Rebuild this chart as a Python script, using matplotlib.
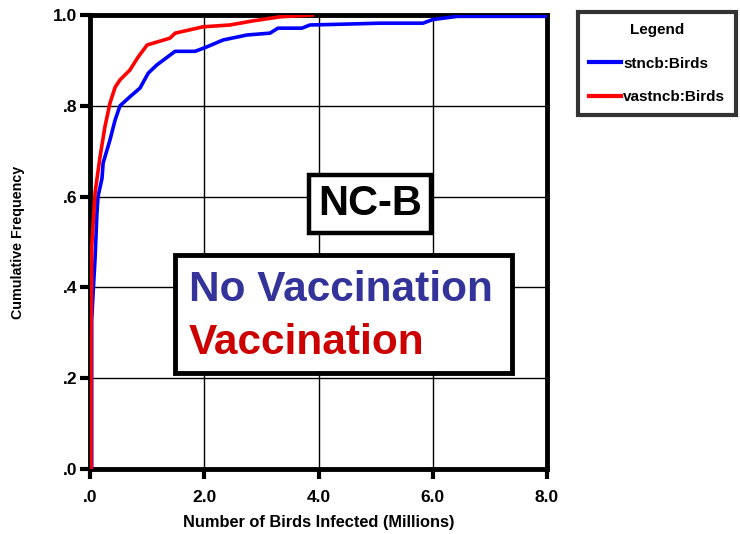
import matplotlib
matplotlib.use('Agg')
import matplotlib.pyplot as plt
from matplotlib.patches import Rectangle

plt.rcParams['font.family'] = ['Liberation Sans', 'DejaVu Sans']
plt.rcParams['font.weight'] = 'bold'

# ================= Data =================
# stncb:Birds (No Vaccination)
blue_x = [0.03, 0.03, 0.06, 0.09, 0.12, 0.14, 0.21, 0.23, 0.35, 0.44, 0.525, 0.70,
          0.875, 1.02, 1.17, 1.49, 1.84, 2.05, 2.33, 2.75, 3.15, 3.29, 3.71, 3.85,
          4.5, 5.08, 5.83, 6.0, 6.43, 8.0]
blue_y = [0.0, 0.33, 0.40, 0.467, 0.56, 0.60, 0.64, 0.674, 0.725, 0.769, 0.80, 0.82,
          0.839, 0.872, 0.89, 0.92, 0.92, 0.93, 0.945, 0.956, 0.96, 0.971, 0.971, 0.978,
          0.98, 0.982, 0.982, 0.99, 0.997, 0.997]

# vastncb:Birds (Vaccination)
red_x = [0.02, 0.02, 0.03, 0.09, 0.175, 0.26, 0.35, 0.44, 0.525, 0.70, 0.84, 1.0,
         1.40, 1.49, 1.98, 2.45, 2.85, 3.33, 3.89]
red_y = [0.0, 0.30, 0.49, 0.61, 0.687, 0.753, 0.806, 0.841, 0.857, 0.879, 0.907, 0.934,
         0.949, 0.960, 0.974, 0.978, 0.987, 0.996, 1.0]

x_ticks = [0, 2, 4, 6, 8]
x_tick_labels = ['.0', '2.0', '4.0', '6.0', '8.0']
y_ticks = [0, 0.2, 0.4, 0.6, 0.8, 1.0]
y_tick_labels = ['.0', '.2', '.4', '.6', '.8', '1.0']

W, H = 740, 534


def fx(px):
    return px / W


def fy(py):
    return 1 - py / H


fig = plt.figure(figsize=(7.4, 5.34), dpi=100)
ax = fig.add_axes([fx(90), fy(469), fx(547) - fx(90), fy(15) - fy(469)])

ax.plot(blue_x, blue_y, color='#0000ff', linewidth=2.6, label='stncb:Birds', zorder=3)
ax.plot(red_x, red_y, color='#ff0000', linewidth=2.6, label='vastncb:Birds', zorder=4)

ax.set_xlim(0, 8)
ax.set_ylim(0, 1.0)
ax.set_xticks(x_ticks)
ax.set_xticklabels(x_tick_labels)
ax.set_yticks(y_ticks)
ax.set_yticklabels(y_tick_labels)
ax.grid(True, color='black', linewidth=1.0)
ax.set_axisbelow(True)
for s in ax.spines.values():
    s.set_linewidth(3.5)
ax.tick_params(axis='both', direction='out', length=7, width=3, labelsize=12.5)
ax.tick_params(axis='x', pad=8)
ax.tick_params(axis='y', pad=2)

ax.set_xlabel('Number of Birds Infected (Millions)', fontsize=11.8, fontweight='bold', labelpad=7)
ax.set_ylabel('Cumulative Frequency', fontsize=10.3, fontweight='bold', labelpad=20)

# NC-B box
fig.text(fx(370), fy(204), 'NC-B', fontsize=30, fontweight='bold', ha='center', va='center',
         bbox=dict(boxstyle='square,pad=0.22', facecolor='white', edgecolor='black', linewidth=3.2),
         zorder=10)

# Scenario box
box = Rectangle((fx(175), fy(373)), fx(512) - fx(175), fy(255) - fy(373), transform=fig.transFigure,
                facecolor='white', edgecolor='black', linewidth=3.5, zorder=9)
fig.patches.append(box)
fig.text(fx(189), fy(290), 'No Vaccination', fontsize=30.5, fontweight='bold', color='#333399',
         ha='left', va='center', zorder=11)
fig.text(fx(189), fy(343), 'Vaccination', fontsize=30.5, fontweight='bold', color='#cc0000',
         ha='left', va='center', zorder=11)

leg = fig.legend(loc='upper left', bbox_to_anchor=(fx(578), fy(12)), borderaxespad=0, title='Legend',
                 fontsize=11, title_fontsize=11, frameon=True, fancybox=False,
                 handlelength=2.1, handletextpad=0.15, borderpad=0.7, labelspacing=1.3)
leg.get_frame().set_edgecolor('black')
leg.get_frame().set_linewidth(3)
leg.get_title().set_fontweight('bold')
for line in leg.get_lines():
    line.set_linewidth(3)

plt.savefig('out.png', dpi=100)
